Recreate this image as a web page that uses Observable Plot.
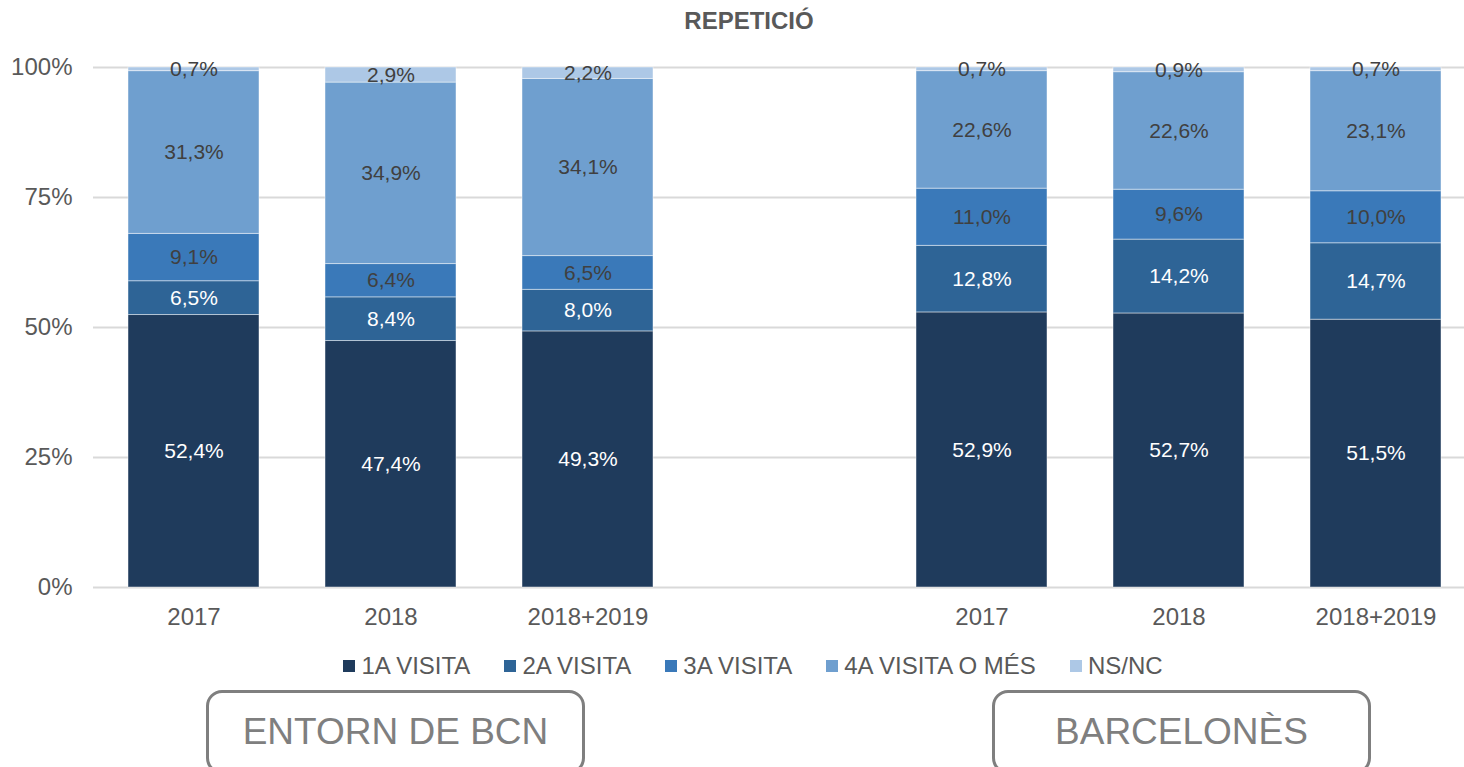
<!DOCTYPE html>
<html>
<head>
<meta charset="utf-8">
<script src="https://cdn.jsdelivr.net/npm/d3@7"></script>
<script src="https://cdn.jsdelivr.net/npm/@observablehq/plot@0.6"></script>
<style>
  html, body { margin: 0; padding: 0; background: #fff; }
  #wrap { position: relative; width: 1464px; height: 767px; overflow: hidden; font-family: "Liberation Sans", Arial, sans-serif; }
  #title { position: absolute; top: 9px; left: 749px; transform: translateX(-50%); font-size: 24px; line-height: 24px; font-weight: bold; color: #595959; white-space: nowrap; }
  #chart { position: absolute; left: 0; top: 0; }
  #legend { position: absolute; top: 654px; left: 0; width: 1506px; display: flex; justify-content: center; gap: 34px; font-size: 24px; line-height: 24px; color: #595959; white-space: nowrap; }
  .item { display: flex; align-items: center; }
  .sw { width: 12px; height: 12px; margin-right: 6px; }
  .box { position: absolute; top: 690px; height: 84px; border: 3px solid #7f7f7f; border-radius: 16px; box-sizing: border-box; display: flex; align-items: center; justify-content: center; color: #7f7f7f; font-size: 37px; padding-bottom: 0px; }
</style>
</head>
<body>
<div id="wrap">
  <div id="title"></div>
  <div id="chart"></div>
  <div id="legend"></div>
  <div class="box" id="box1" style="left:206px;width:379px;"></div>
  <div class="box" id="box2" style="left:992px;width:379px;"></div>
</div>
<script>
const titleText = "REPETICIÓ";
const groups = ["ENTORN DE BCN", "BARCELONÈS"];
const years = ["2017", "2018", "2018+2019"];
const slots = ["E|2017", "E|2018", "E|2018+2019", "gap", "B|2017", "B|2018", "B|2018+2019"];
const barSlots = ["E|2017", "E|2018", "E|2018+2019", "B|2017", "B|2018", "B|2018+2019"];
const series = ["1A VISITA", "2A VISITA", "3A VISITA", "4A VISITA O MÉS", "NS/NC"];
const colors = ["#1f3b5c", "#2e6496", "#3a79b9", "#6f9fcf", "#adc8e6"];
const labelColors = ["#ffffff", "#ffffff", "#404040", "#404040", "#404040"];
const visita1 = [52.4, 47.4, 49.3, 52.9, 52.7, 51.5];
const visita2 = [6.5, 8.4, 8.0, 12.8, 14.2, 14.7];
const visita3 = [9.1, 6.4, 6.5, 11.0, 9.6, 10.0];
const visita4 = [31.3, 34.9, 34.1, 22.6, 22.6, 23.1];
const nsnc = [0.7, 2.9, 2.2, 0.7, 0.9, 0.7];
const yTicks = [0, 0.25, 0.5, 0.75, 1];
const yTickLabels = ["0%", "25%", "50%", "75%", "100%"];

const seriesValues = [visita1, visita2, visita3, visita4, nsnc];
const data = [];
barSlots.forEach((slot, i) => {
  series.forEach((s, j) => {
    const v = seriesValues[j][i];
    data.push({slot, series: s, value: v, label: v.toFixed(1).replace(".", ",") + "%", color: colors[j], textColor: labelColors[j]});
  });
});

document.getElementById("title").textContent = titleText;
document.getElementById("box1").textContent = groups[0];
document.getElementById("box2").textContent = groups[1];

const stackOpts = {x: "slot", y: "value", z: "series", order: series, offset: "normalize"};

const chart = Plot.plot({
  width: 1464,
  height: 640,
  marginTop: 67,
  marginBottom: 53,
  marginLeft: 93,
  marginRight: 0,
  style: {fontFamily: "'Liberation Sans', Arial, sans-serif", fontSize: "22px", color: "#595959", background: "transparent", overflow: "visible"},
  x: {domain: slots, range: [92, 1476], paddingInner: 0.337, paddingOuter: 0.1685, axis: null},
  y: {domain: [0, 1], axis: null},
  color: {type: "identity"},
  marks: [
    Plot.ruleY(yTicks, {stroke: "#d9d9d9", strokeWidth: 2}),
    Plot.barY(data, Plot.stackY({...stackOpts, fill: "color", stroke: "#ffffff", strokeOpacity: 0.45, strokeWidth: 1})),
    Plot.text(data, Plot.stackY({...stackOpts, text: "label", fill: "textColor", fontSize: 21})),
    Plot.axisX(slots, {label: null, tickSize: 0, tickPadding: 20, fontSize: 24, fill: "#595959",
      tickFormat: d => d === "gap" ? "" : d.split("|")[1]}),
    Plot.axisY(yTicks, {label: null, tickSize: 0, tickPadding: 21, fontSize: 24, fill: "#595959",
      tickFormat: d => yTickLabels[yTicks.indexOf(d)]})
  ]
});
document.getElementById("chart").appendChild(chart);

const legend = document.getElementById("legend");
series.forEach((s, j) => {
  const it = document.createElement("div");
  it.className = "item";
  const sw = document.createElement("div");
  sw.className = "sw";
  sw.style.background = colors[j];
  const tx = document.createElement("span");
  tx.textContent = s;
  it.appendChild(sw);
  it.appendChild(tx);
  legend.appendChild(it);
});
</script>
</body>
</html>
